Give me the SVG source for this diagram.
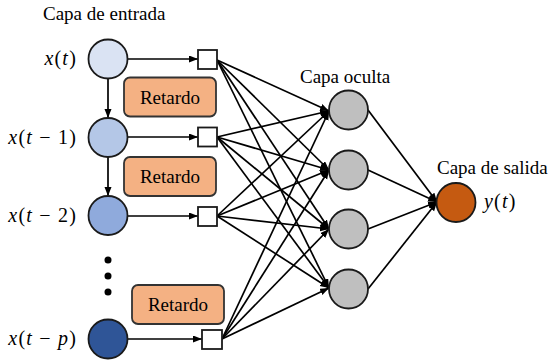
<svg xmlns="http://www.w3.org/2000/svg" width="551" height="360" viewBox="0 0 551 360">
<defs>
<marker id="arr" markerUnits="userSpaceOnUse" markerWidth="10" markerHeight="8" refX="9" refY="3.5" orient="auto">
<path d="M0,0 L9,3.5 L0,7 z" fill="#000"/>
</marker>
<style>
.node{stroke:#1a1a1a;stroke-width:1.8}
.box{fill:#fff;stroke:#1a1a1a;stroke-width:1.8}
.ret{fill:#F4B183;stroke:#333;stroke-width:1.8}
.lbl{font-size:19px;fill:#000}
.math{font-size:20px;letter-spacing:1.2px;fill:#000}
.it{font-style:italic}
.conn line{stroke:#000;stroke-width:1.7;marker-end:url(#arr)}
</style>
</defs>
<rect width="551" height="360" fill="#fff"/>

<g font-family="Liberation Serif, Times New Roman, serif">
<text class="lbl" x="43" y="20">Capa de entrada</text>
<text class="lbl" x="300" y="83">Capa oculta</text>
<text class="lbl" x="437" y="174">Capa de salida</text>
</g>

<g id="connectors" class="conn">
<line x1="128" y1="59" x2="198" y2="59"/>
<line x1="128" y1="137" x2="198" y2="137"/>
<line x1="128" y1="216" x2="198" y2="216"/>
<line x1="128" y1="339" x2="202" y2="339"/>
<line x1="108" y1="78" x2="108" y2="118"/>
<line x1="108" y1="157" x2="108" y2="196"/>
<line x1="217" y1="60" x2="329" y2="111"/>
<line x1="217" y1="60" x2="329" y2="170"/>
<line x1="217" y1="60" x2="329" y2="229"/>
<line x1="217" y1="60" x2="329" y2="288"/>
<line x1="217" y1="137" x2="329" y2="111"/>
<line x1="217" y1="137" x2="329" y2="170"/>
<line x1="217" y1="137" x2="329" y2="229"/>
<line x1="217" y1="137" x2="329" y2="288"/>
<line x1="217" y1="216" x2="329" y2="111"/>
<line x1="217" y1="216" x2="329" y2="170"/>
<line x1="217" y1="216" x2="329" y2="229"/>
<line x1="217" y1="216" x2="329" y2="288"/>
<line x1="222" y1="339" x2="329" y2="111"/>
<line x1="222" y1="339" x2="329" y2="170"/>
<line x1="222" y1="339" x2="329" y2="229"/>
<line x1="222" y1="339" x2="329" y2="288"/>
<line x1="368" y1="110" x2="437" y2="202"/>
<line x1="368" y1="170" x2="437" y2="202"/>
<line x1="368" y1="229" x2="437" y2="202"/>
<line x1="368" y1="289" x2="437" y2="202"/>
</g>

<g font-family="Liberation Serif, serif">
<g id="in0"><circle class="node" cx="108" cy="59" r="19.5" fill="#DAE3F3"/>
<text class="math" x="77" y="65" text-anchor="end"><tspan class="it">x</tspan>(<tspan class="it">t</tspan>)</text></g>
<g id="in1"><circle class="node" cx="108" cy="137.5" r="19.5" fill="#B4C7E7"/>
<text class="math" x="77" y="144" text-anchor="end"><tspan class="it">x</tspan>(<tspan class="it">t</tspan> − 1)</text></g>
<g id="in2"><circle class="node" cx="108" cy="215.5" r="19.5" fill="#8FAADC"/>
<text class="math" x="77" y="222" text-anchor="end"><tspan class="it">x</tspan>(<tspan class="it">t</tspan> − 2)</text></g>
<g id="in3"><circle class="node" cx="108" cy="339" r="19.5" fill="#2F5597"/>
<text class="math" x="77" y="345" text-anchor="end"><tspan class="it">x</tspan>(<tspan class="it">t</tspan> − <tspan class="it">p</tspan>)</text></g>
</g>

<g id="dots" fill="#000">
<circle cx="108" cy="260" r="3.5"/>
<circle cx="108" cy="276" r="3.5"/>
<circle cx="108" cy="292" r="3.5"/>
</g>

<g id="d0"><rect class="box" x="198" y="50" width="19" height="19"/></g>
<g id="d1"><rect class="box" x="198" y="127.5" width="19" height="19"/></g>
<g id="d2"><rect class="box" x="198" y="207" width="19" height="19"/></g>
<g id="d3"><rect class="box" x="202" y="330" width="20" height="19"/></g>

<g font-family="Liberation Serif, serif">
<g id="ret0"><rect class="ret" x="124" y="77.5" width="92" height="39" rx="6"/>
<text class="lbl" x="170" y="103.5" text-anchor="middle">Retardo</text></g>
<g id="ret1"><rect class="ret" x="124" y="157" width="92" height="39" rx="6"/>
<text class="lbl" x="170" y="183" text-anchor="middle">Retardo</text></g>
<g id="ret2"><rect class="ret" x="132" y="285" width="92" height="39" rx="6"/>
<text class="lbl" x="178" y="311" text-anchor="middle">Retardo</text></g>
</g>

<g id="h0"><circle class="node" cx="348.5" cy="110" r="19.5" fill="#BFBFBF"/></g>
<g id="h1"><circle class="node" cx="348.5" cy="170" r="19.5" fill="#BFBFBF"/></g>
<g id="h2"><circle class="node" cx="348.5" cy="229" r="19.5" fill="#BFBFBF"/></g>
<g id="h3"><circle class="node" cx="348.5" cy="289" r="19.5" fill="#BFBFBF"/></g>

<g id="out" font-family="Liberation Serif, serif"><circle class="node" cx="456" cy="202.5" r="19.5" fill="#C55A11"/>
<text class="math" x="484" y="208"><tspan class="it">y</tspan>(<tspan class="it">t</tspan>)</text></g>
</svg>
